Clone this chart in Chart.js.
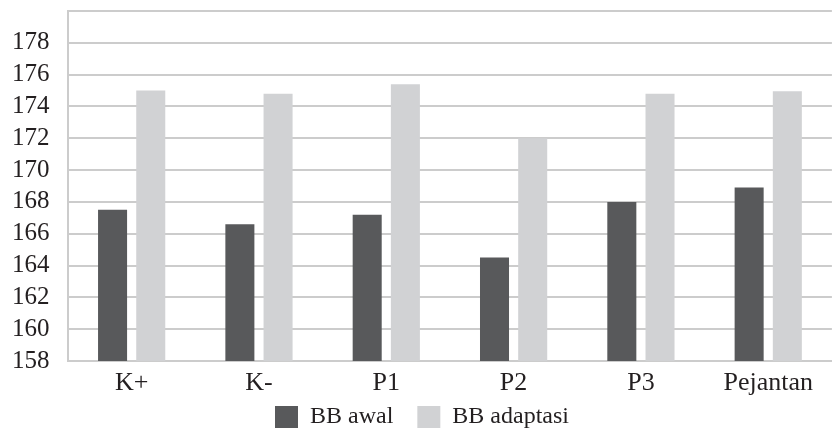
<!DOCTYPE html>
<html>
<head>
<meta charset="utf-8">
<script src="https://cdn.jsdelivr.net/npm/chart.js@4/dist/chart.umd.min.js"></script>
<style>
  html, body { margin: 0; padding: 0; background: #fff; }
  #wrap { width: 832px; height: 434px; }
</style>
</head>
<body>
<div id="wrap"><canvas id="chart"></canvas></div>
<script>
var categories = ['K+', 'K-', 'P1', 'P2', 'P3', 'Pejantan'];
var bbAwal = [167.5, 166.6, 167.2, 164.5, 168.0, 168.9];
var bbAdaptasi = [175.0, 174.8, 175.4, 172.0, 174.8, 174.95];
var yMin = 158;
var yMax = 180;
var yStep = 2;

var textColor = '#231f20';
var gridColor = '#cccccc';
var serif = '"Liberation Serif", "Times New Roman", serif';

Chart.defaults.font.family = serif;
Chart.defaults.color = textColor;

var ctx = document.getElementById('chart');
var barChart = new Chart(ctx, {
    type: 'bar',
    data: {
        labels: categories,
        datasets: [{
            label: 'BB awal',
            data: bbAwal,
            backgroundColor: '#58595b'
        }, {
            label: 'BB adaptasi',
            data: bbAdaptasi,
            backgroundColor: '#d1d2d4'
        }]
    },
    options: {
        responsive: true,
        maintainAspectRatio: false,
        animation: false,
        categoryPercentage: 0.6,
        barPercentage: 0.76,
        layout: {
            padding: {top: 11, right: 0, left: 12, bottom: 0}
        },
        plugins: {
            tooltip: {enabled: false},
            legend: {
                position: 'bottom',
                maxHeight: 29,
                labels: {
                    boxWidth: 23,
                    boxHeight: 22,
                    padding: 0,
                    color: textColor,
                    font: {family: serif, size: 24},
                    generateLabels: function(chart) {
                        var items = Chart.defaults.plugins.legend.labels.generateLabels(chart);
                        // wider gap between the two entries, like the original
                        items[0].text = items[0].text + '\u00a0\u00a0\u00a0\u00a0';
                        return items;
                    }
                }
            }
        },
        scales: {
            x: {
                grid: {display: false, drawTicks: false},
                border: {display: true, color: gridColor, width: 2},
                ticks: {
                    padding: 19,
                    autoSkip: false,
                    maxRotation: 0,
                    color: textColor,
                    font: {family: serif, size: 26, lineHeight: '6px'}
                }
            },
            y: {
                min: yMin,
                max: yMax,
                afterFit: function(scale) {
                    scale.width = 56;
                },
                grid: {color: gridColor, lineWidth: 2, drawTicks: false},
                border: {display: true, color: gridColor, width: 2},
                ticks: {
                    stepSize: yStep,
                    padding: 0,
                    crossAlign: 'far',
                    autoSkip: false,
                    color: textColor,
                    font: function(c) {
                        // top line (180) has no label in the original
                        if (c.tick && c.tick.value === yMax) {
                            return {family: serif, size: 1};
                        }
                        return {family: serif, size: 25};
                    },
                    callback: function(value) {
                        return value === yMax ? '' : value;
                    }
                }
            }
        }
    }
});
</script>
</body>
</html>
